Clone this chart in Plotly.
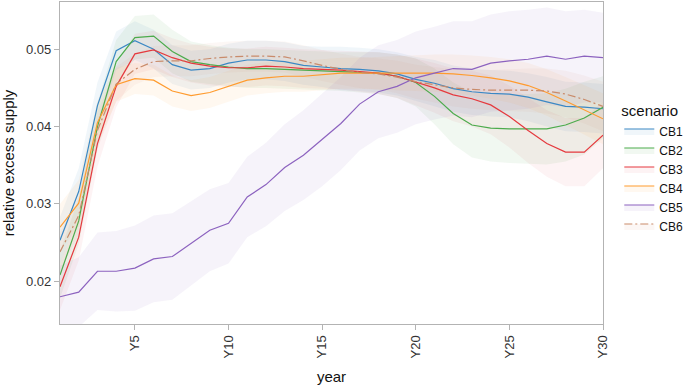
import plotly.graph_objects as go

years = [f"Y{i}" for i in range(1, 31)]
tick_years = ["Y5", "Y10", "Y15", "Y20", "Y25", "Y30"]
y_ticks = [0.02, 0.03, 0.04, 0.05]

scenarios = ["CB1", "CB2", "CB3", "CB4", "CB5", "CB6"]

cb1 = [0.0253, 0.0316, 0.0427, 0.0498, 0.0511, 0.0500, 0.0480, 0.0473, 0.0475, 0.0482,
       0.0486, 0.0486, 0.0484, 0.0479, 0.0477, 0.0475, 0.0474, 0.0472, 0.0468, 0.0461,
       0.0456, 0.0449, 0.0445, 0.0443, 0.0442, 0.0438, 0.0432, 0.0426, 0.0425, 0.0423]
cb2 = [0.0208, 0.0278, 0.0400, 0.0484, 0.0515, 0.0517, 0.0497, 0.0484, 0.0480, 0.0477,
       0.0475, 0.0475, 0.0474, 0.0473, 0.0472, 0.0471, 0.0470, 0.0469, 0.0465, 0.0457,
       0.0439, 0.0417, 0.0402, 0.0398, 0.0397, 0.0397, 0.0397, 0.0402, 0.0411, 0.0425]
cb3 = [0.0193, 0.0257, 0.0378, 0.0452, 0.0494, 0.0499, 0.0489, 0.0482, 0.0478, 0.0476,
       0.0476, 0.0478, 0.0477, 0.0475, 0.0474, 0.0473, 0.0471, 0.0469, 0.0465, 0.0458,
       0.0450, 0.0441, 0.0436, 0.0428, 0.0413, 0.0395, 0.0378, 0.0367, 0.0367, 0.0389]
cb4 = [0.0270, 0.0301, 0.0405, 0.0454, 0.0462, 0.0460, 0.0446, 0.0440, 0.0444, 0.0452,
       0.0460, 0.0463, 0.0465, 0.0465, 0.0467, 0.0469, 0.0469, 0.0469, 0.0469, 0.0469,
       0.0469, 0.0468, 0.0466, 0.0463, 0.0459, 0.0453, 0.0444, 0.0433, 0.0422, 0.0410]
cb5 = [0.0180, 0.0186, 0.0213, 0.0213, 0.0217, 0.0229, 0.0232, 0.0249, 0.0266, 0.0275,
       0.0309, 0.0325, 0.0347, 0.0363, 0.0383, 0.0404, 0.0429, 0.0445, 0.0452, 0.0463,
       0.0469, 0.0475, 0.0474, 0.0482, 0.0485, 0.0487, 0.0491, 0.0487, 0.0491, 0.0489]
cb6 = [0.0238, 0.0285, 0.0395, 0.0455, 0.0474, 0.0484, 0.0485, 0.0485, 0.0488, 0.0490,
       0.0491, 0.0491, 0.0490, 0.0485, 0.0479, 0.0474, 0.0470, 0.0468, 0.0464, 0.0458,
       0.0454, 0.0450, 0.0448, 0.0447, 0.0447, 0.0447, 0.0446, 0.0442, 0.0435, 0.0426]

# half-width of the shaded uncertainty ribbons
cb1_spread = [0.0030, 0.0030, 0.0030, 0.0025, 0.0025, 0.0025, 0.0025, 0.0025, 0.0025, 0.0025,
              0.0025, 0.0025, 0.0025, 0.0025, 0.0026, 0.0028, 0.0028, 0.0028, 0.0028, 0.0029,
              0.0030, 0.0030, 0.0030, 0.0030, 0.0030, 0.0031, 0.0032, 0.0032, 0.0032, 0.0032]
cb2_spread = [0.0030, 0.0030, 0.0030, 0.0028, 0.0028, 0.0028, 0.0028, 0.0026, 0.0025, 0.0025,
              0.0025, 0.0025, 0.0025, 0.0025, 0.0025, 0.0025, 0.0026, 0.0027, 0.0028, 0.0031,
              0.0036, 0.0040, 0.0042, 0.0043, 0.0044, 0.0045, 0.0046, 0.0047, 0.0047, 0.0040]
cb3_spread = [0.0030, 0.0030, 0.0030, 0.0027, 0.0026, 0.0025, 0.0025, 0.0025, 0.0025, 0.0025,
              0.0025, 0.0025, 0.0025, 0.0025, 0.0025, 0.0025, 0.0026, 0.0027, 0.0028, 0.0030,
              0.0032, 0.0034, 0.0036, 0.0038, 0.0040, 0.0042, 0.0043, 0.0044, 0.0044, 0.0043]
cb4_spread = [0.0030, 0.0030, 0.0028, 0.0022, 0.0020, 0.0020, 0.0020, 0.0020, 0.0020, 0.0020,
              0.0020, 0.0020, 0.0020, 0.0020, 0.0020, 0.0020, 0.0020, 0.0021, 0.0022, 0.0023,
              0.0024, 0.0025, 0.0026, 0.0027, 0.0028, 0.0029, 0.0030, 0.0031, 0.0032, 0.0033]
cb5_spread = [0.0040, 0.0045, 0.0050, 0.0052, 0.0055, 0.0056, 0.0056, 0.0055, 0.0053, 0.0052,
              0.0052, 0.0054, 0.0056, 0.0058, 0.0060, 0.0060, 0.0060, 0.0060, 0.0060, 0.0060,
              0.0060, 0.0061, 0.0062, 0.0063, 0.0064, 0.0064, 0.0063, 0.0062, 0.0060, 0.0058]
cb6_spread = [0.0025, 0.0025, 0.0024, 0.0022, 0.0020, 0.0020, 0.0020, 0.0020, 0.0020, 0.0020,
              0.0020, 0.0020, 0.0020, 0.0020, 0.0020, 0.0020, 0.0020, 0.0020, 0.0021, 0.0022,
              0.0023, 0.0024, 0.0025, 0.0026, 0.0027, 0.0028, 0.0029, 0.0030, 0.0031, 0.0032]

series = [cb1, cb2, cb3, cb4, cb5, cb6]
spreads = [cb1_spread, cb2_spread, cb3_spread, cb4_spread, cb5_spread, cb6_spread]
line_colors = ["#3b88c4", "#4cab4c", "#e5393e", "#ff9b2e", "#8c62bf", "#c98b6b"]
fill_colors = ["rgba(59,136,196,0.08)", "rgba(76,171,76,0.08)", "rgba(229,57,62,0.06)",
               "rgba(255,155,46,0.07)", "rgba(140,98,191,0.08)", "rgba(207,143,112,0.07)"]
dashes = ["solid", "solid", "solid", "solid", "solid", "8px,3px,2px,3px"]

fig = go.Figure()

# ribbons
for vals, sp, fc in zip(series, spreads, fill_colors):
    lower = [v - s for v, s in zip(vals, sp)]
    upper = [v + s for v, s in zip(vals, sp)]
    fig.add_trace(go.Scatter(x=years + years[::-1], y=upper + lower[::-1],
                             mode="lines", line=dict(width=0), fill="toself",
                             fillcolor=fc, showlegend=False, hoverinfo="skip"))

# lines
for name, vals, lc, fc, d in zip(scenarios, series, line_colors, fill_colors, dashes):
    fig.add_trace(go.Scatter(x=years, y=vals, mode="lines", name=name,
                             line=dict(color=lc, width=1.2, dash=d),
                             showlegend=False))
    fig.add_trace(go.Scatter(x=[None], y=[None], mode="lines", name=name,
                             line=dict(color=lc, width=1.2, dash=d),
                             fill="toself", fillcolor=fc, showlegend=True))

axis_common = dict(showline=True, linecolor="#b3b3b3", linewidth=1.3, mirror=True,
                   showgrid=False, zeroline=False, ticks="outside", ticklen=5,
                   tickcolor="#b3b3b3", tickfont=dict(size=13, color="#333333"))

fig.update_xaxes(type="category", categoryorder="array", categoryarray=years,
                 range=[0, 29], tickmode="array", tickvals=tick_years, ticktext=tick_years,
                 tickangle=-90, title=dict(text="year", font=dict(size=15, color="#111111"), standoff=14),
                 **axis_common)
fig.update_yaxes(range=[0.01448, 0.0561], tickmode="array", tickvals=y_ticks,
                 ticktext=[f"{v:.2f}" for v in y_ticks],
                 title=dict(text="relative excess supply", font=dict(size=15, color="#111111"), standoff=10),
                 **axis_common)

fig.update_layout(
    width=685, height=386,
    margin=dict(l=60, r=82, t=2, b=62, autoexpand=False),
    paper_bgcolor="white", plot_bgcolor="white",
    font=dict(family="Liberation Sans, Arial, sans-serif", color="#111111"),
    legend=dict(title=dict(text="scenario", font=dict(size=15)), x=1.03, xanchor="left",
                y=0.705, yanchor="top", font=dict(size=12), tracegroupgap=0,
                itemwidth=30, bgcolor="rgba(0,0,0,0)"),
    showlegend=True,
)

fig.write_html("out.html", config={"displayModeBar": False},
               post_script="document.body.style.margin='0px';")
